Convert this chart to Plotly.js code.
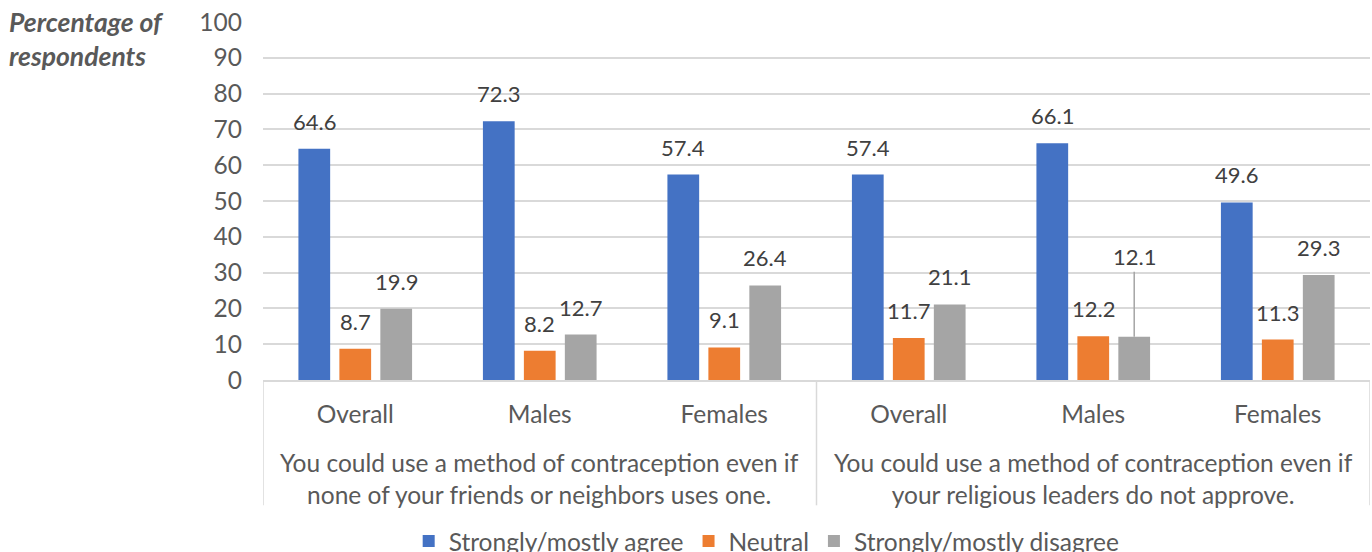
<!DOCTYPE html>
<html>
<head>
<meta charset="utf-8">
<script src="https://cdn.plot.ly/plotly-3.0.1.min.js"></script>
<style>html,body{margin:0;padding:0;background:#fff;}#chart{width:1372px;height:552px;}</style>
</head>
<body>
<div id="chart"></div>
<script>
const categories = ["Overall", "Males", "Females", "Overall", "Males", "Females"];
const groupLabels = [
  "You could use a method of contraception even if<br>none of your friends or neighbors uses one.",
  "You could use a method of contraception even if<br>your religious leaders do not approve."
];
const seriesNames = ["Strongly/mostly agree", "Neutral", "Strongly/mostly disagree"];
const agree = [64.6, 72.3, 57.4, 57.4, 66.1, 49.6];
const neutral = [8.7, 8.2, 9.1, 11.7, 12.2, 11.3];
const disagree = [19.9, 12.7, 26.4, 21.1, 12.1, 29.3];
const colors = ["#4472C4", "#ED7D31", "#A5A5A5"];
const yTicks = [0, 10, 20, 30, 40, 50, 60, 70, 80, 90, 100];

const series = [agree, neutral, disagree];
const xIdx = categories.map((c, i) => i);
const barW = 0.172;
const step = 0.222;
const FONT = "Lato, 'Open Sans', sans-serif";

const traces = series.map((vals, k) => ({
  type: "bar",
  name: seriesNames[k],
  x: xIdx,
  y: vals,
  width: barW,
  offset: (k - 1) * step - barW / 2,
  marker: {color: colors[k]},
  hoverinfo: "y+name"
}));

const annotations = [];
series.forEach((vals, k) => {
  vals.forEach((v, i) => {
    const special = (k === 2 && i === 4);
    annotations.push({
      x: i + (k - 1) * step,
      y: v,
      xref: "x", yref: "y",
      text: String(v),
      showarrow: special,
      arrowhead: 0,
      arrowwidth: 1.5,
      arrowcolor: "#A5A5A5",
      ax: 0,
      ay: special ? -80 : 0,
      standoff: 0,
      yanchor: special ? "auto" : "bottom",
      yshift: special ? 0 : 12,
      font: {family: FONT, size: 22, color: "#404040"}
    });
  });
});

// group labels
groupLabels.forEach((t, g) => {
  annotations.push({
    x: g * 3 + 1, y: -0.185, xref: "x", yref: "paper",
    text: t, showarrow: false, yanchor: "top",
    font: {family: FONT, size: 24.5, color: "#595959"},
    align: "center"
  });
});

// y axis title
annotations.push({
  x: -256 / 1107, y: 1, xref: "paper", yref: "paper",
  xanchor: "left", yanchor: "top", yshift: 18,
  text: "<b><i>Percentage of<br>respondents</i></b>", showarrow: false,
  align: "left",
  font: {family: FONT, size: 26.5, color: "#595959"}
});

const shapes = [-0.5, 2.5, 5.5].map(xv => ({
  type: "line", xref: "x", yref: "paper",
  x0: xv, x1: xv, y0: 0, y1: -0.35,
  line: {color: "#D9D9D9", width: 1.5}
}));

const layout = {
  width: 1372, height: 552,
  margin: {l: 263, r: 2, t: 22, b: 172, autoexpand: false},
  paper_bgcolor: "#fff", plot_bgcolor: "#fff",
  showlegend: true,
  legend: {
    orientation: "h", x: 0.455, xanchor: "center", y: -0.45, yanchor: "middle",
    font: {family: FONT, size: 24.5, color: "#595959"},
    traceorder: "normal"
  },
  xaxis: {
    range: [-0.5, 5.5],
    tickmode: "array", tickvals: xIdx, ticktext: categories,
    showgrid: false, zeroline: false,
    showline: true, linecolor: "#D9D9D9", linewidth: 1.5,
    ticks: "", ticklabelstandoff: 12, automargin: false,
    tickfont: {family: FONT, size: 24.5, color: "#595959"},
    fixedrange: true
  },
  yaxis: {
    range: [0, 100],
    tickmode: "array", tickvals: yTicks, ticktext: yTicks.map(String),
    showgrid: true, gridcolor: "#D9D9D9", gridwidth: 2,
    zeroline: false, showline: false, ticks: "", automargin: false,
    ticklabelstandoff: 20,
    tickfont: {family: FONT, size: 24.5, color: "#595959"},
    fixedrange: true
  },
  annotations: annotations,
  shapes: shapes,
  font: {family: FONT}
};

Plotly.newPlot("chart", traces, layout, {displayModeBar: false, staticPlot: true});
</script>
</body>
</html>
